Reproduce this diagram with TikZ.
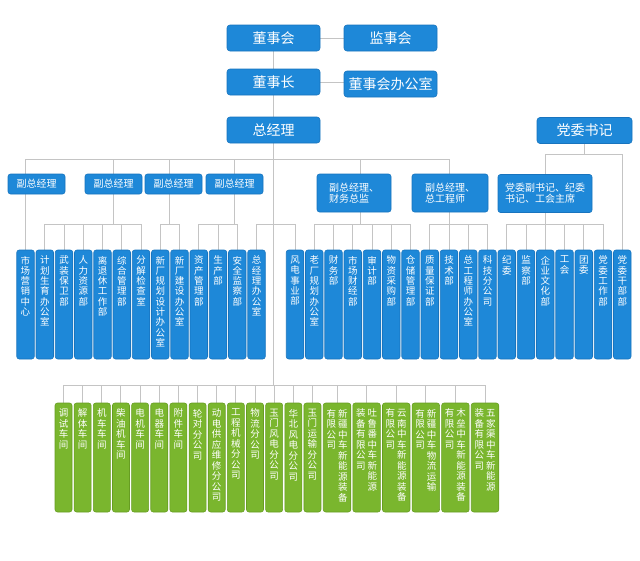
\documentclass[tikz,border=0pt]{standalone}
\usepackage{fontspec}
\setmainfont{Noto Sans CJK SC}
\usetikzlibrary{calc,backgrounds}
\XeTeXlinebreaklocale "zh"
\XeTeXlinebreakskip=0pt plus 1pt
\definecolor{OrgBlue}{HTML}{1E88D8}
\definecolor{OrgBlueEdge}{HTML}{1874BE}
\definecolor{ShopGreen}{HTML}{7AB62E}
\definecolor{ShopGreenEdge}{HTML}{679D22}
\definecolor{LinkGray}{HTML}{C4C4C4}
\newcommand{\colone}[1]{\parbox[c][97pt][t]{11.5pt}{\centering #1}}
\newcommand{\coltwo}[2]{\parbox[c][97pt][t]{23pt}{\parbox[t]{11.5pt}{\centering #1}\parbox[t]{11.5pt}{\centering #2}}}
\tikzset{topbox/.style={fill=OrgBlue,draw=OrgBlueEdge,line width=.6,rounded corners=3pt,text=white,minimum width=93,minimum height=26,inner sep=0,font=\fontsize{14}{16}\selectfont},depbox/.style={fill=OrgBlue,draw=OrgBlueEdge,line width=.6,rounded corners=2.5pt,text=white,minimum width=57,minimum height=20,inner sep=0,font=\fontsize{10}{11}\selectfont},twoline/.style={align=left,minimum height=38},unitbox/.style={fill=OrgBlue,draw=OrgBlueEdge,line width=.6,rounded corners=2.5pt,text=white,minimum width=17.5,inner xsep=0,inner ysep=6,font=\fontsize{9.5}{10.3}\selectfont},shopbox/.style={unitbox,fill=ShopGreen,draw=ShopGreenEdge,font=\fontsize{9.5}{10.5}\selectfont},link/.style={draw=LinkGray,line width=1}}

\begin{document}
\begin{tikzpicture}[x=1pt,y=-1pt]
\useasboundingbox (0,0) rectangle (640,560);
\node[topbox] (dsh) at (273.5,38) {董事会};
\node[topbox] (jsh) at (390.5,38) {监事会};
\node[topbox] (dsz) at (273.5,82) {董事长};
\node[topbox] (dsb) at (390.5,84) {董事会办公室};
\node[topbox] (zjl) at (273.5,130) {总经理};
\node[topbox,minimum width=95] (dwsj) at (584.5,130.5) {党委书记};
\node[depbox] (pd1) at (36.5,184) {副总经理};
\node[depbox] (pd2) at (113.5,184) {副总经理};
\node[depbox] (pd3) at (173.5,184) {副总经理};
\node[depbox] (pd4) at (234.5,184) {副总经理};
\node[depbox,twoline,minimum width=74] (pd5) at (354,193) {副总经理、\\财务总监};
\node[depbox,twoline,minimum width=76] (pd6) at (450,193) {副总经理、\\总工程师};
\node[depbox,twoline,minimum width=94] (pd7) at (545,193.5) {党委副书记、纪委\\书记、工会主席};
\foreach \s/\t in {1/市场营销中心,2/计划生育办公室,3/武装保卫部,4/人力资源部,5/离退休工作部,6/综合管理部,7/分解检查室,8/新厂规划设计办公室,9/新厂建设办公室,10/资产管理部,11/生产部,12/安全监察部,13/总经理办公室,15/风电事业部,16/老厂规划办公室,17/财务部,18/市场财经部,19/审计部,20/物资采购部,21/仓储管理部,22/质量保证部,23/技术部,24/总工程师办公室,25/科技分公司,26/纪委,27/监察部,28/企业文化部,29/工会,30/团委,31/党委工作部,32/党委干部部}
  \node[unitbox] (b\s) at ({25.5+19.25*(\s-1)},304.5) {\colone{\t}};
\foreach \s/\t in {1/调试车间,2/解体车间,3/机车车间,4/柴油机车间,5/电机车间,6/电器车间,7/附件车间,8/轮对分公司,9/动电供应维修分公司,10/工程机械分公司,11/物流分公司,12/玉门风电分公司,13/华北风电分公司,14/玉门运输分公司}
  \node[shopbox,minimum width=17] (g\s) at ({63.5+19.15*(\s-1)},457.5) {\colone{\t}};
\foreach \s/\l/\r in {15/有限公司/新疆中车新能源装备,16/装备有限公司/吐鲁番中车新能源,17/有限公司/云南中车新能源装备,18/有限公司/新疆中车物流运输,19/有限公司/木垒中车新能源装备,20/装备有限公司/五家渠中车新能源}
  \node[shopbox,minimum width=27.5] (g\s) at ({337+29.6*(\s-15)},457.5) {\coltwo{\l}{\r}};
\coordinate (bus) at (0,159);
\coordinate (brk) at (0,224);
\coordinate (pbus) at (0,154);
\coordinate (gbus) at (0,385);
\coordinate (t3) at ($(b8.north)!.5!(b9.north)$);
\coordinate (t5) at ($(b18.north)!.4!(b19.north)$);
\begin{pgfonlayer}{background}
\draw[link] (dsh) -- (jsh);
\draw[link] (dsz) -- (dsz -| dsb.west);
\draw[link] (dsh) -- (zjl);
\draw[link] (zjl) -- (zjl |- gbus);
\draw[link] (b1.north) |- (b23 |- bus) -- (b23.north);
\foreach \n in {pd2,t3,pd4,t5} \draw[link] (\n |- bus) -- (\n |- brk);
\draw[link] (dwsj) -- (dwsj |- pbus);
\draw[link] (pd7.north) |- (b32 |- pbus) -- (b32.north);
\draw[link] (pd7) -- (pd7 |- brk);
\foreach \a/\z in {2/7,8/9,10/12,13/15,16/21,22/25,26/31}
  \draw[link] (b\a.north) |- (b\z.north |- brk) -- (b\z.north);
\foreach \k in {3,4,5,6,11,17,18,19,20,23,24,27,28,29,30}
  \draw[link] (b\k.north) -- (b\k.north |- brk);
\draw[link] (g1.north) |- (g20.north |- gbus) -- (g20.north);
\foreach \k in {2,...,19} \draw[link] (g\k.north) -- (g\k.north |- gbus);
\end{pgfonlayer}
\end{tikzpicture}
\end{document}
